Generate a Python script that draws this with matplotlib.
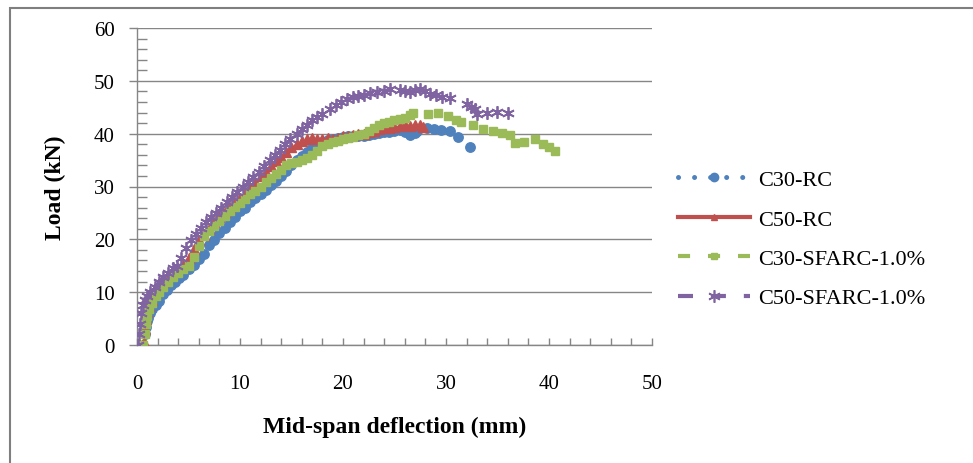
import numpy as np
import matplotlib
matplotlib.use('Agg')
import matplotlib.pyplot as plt
from matplotlib.lines import Line2D
from matplotlib.patches import Rectangle
from matplotlib.ticker import MultipleLocator

# series data
series_names = ['C30-RC', 'C50-RC', 'C30-SFARC-1.0%', 'C50-SFARC-1.0%']

c30_rc_x = [0.8, 0.9, 1.0, 1.1, 1.3, 1.5, 1.8, 2.1, 2.5, 2.9, 3.3, 3.7, 4.1, 4.5, 5.0,
            5.5, 6.0, 6.5, 7.0, 7.5, 8.0, 8.5, 9.0, 9.5, 10.0, 10.5, 11.0, 11.5, 12.0,
            12.5, 13.0, 13.5, 14.0, 14.5, 15.0, 15.5, 16.0, 16.5, 17.0, 17.5, 18.0,
            18.5, 19.0, 19.5, 20.0, 20.5, 21.0, 21.5, 22.0, 22.5, 23.0, 23.5, 24.0,
            24.5, 25.0, 25.5, 26.0, 26.5, 27.0, 27.2, 28.2, 28.8, 29.5, 30.4, 31.2, 32.3]
c30_rc_y = [2.0, 3.5, 4.5, 5.2, 6.0, 6.8, 7.6, 8.4, 9.6, 10.5, 11.3, 12.0, 12.6, 13.3, 14.3,
            15.1, 16.2, 17.2, 19.0, 19.9, 21.2, 22.1, 23.2, 24.3, 25.4, 26.0, 27.0, 27.8, 28.6,
            29.4, 30.2, 31.0, 31.9, 33.0, 34.0, 35.0, 35.8, 36.6, 37.3, 38.0, 38.5,
            38.8, 39.0, 39.2, 39.4, 39.5, 39.5, 39.6, 39.5, 39.7, 40.0, 40.2, 40.3,
            40.4, 40.5, 40.6, 40.3, 39.8, 40.2, 40.5, 41.0, 40.9, 40.7, 40.5, 39.4, 37.5]

c50_rc_x = [0.3, 0.5, 0.7, 0.8, 0.9, 1.0, 1.2, 1.5, 1.75, 2.0, 2.5, 3.0, 3.5, 4.0, 4.5,
            5.0, 5.5, 6.0, 6.5, 7.0, 7.5, 8.0, 8.5, 9.0, 9.5, 10.0, 10.5, 11.0, 11.5,
            12.0, 12.5, 13.0, 13.5, 14.0, 14.5, 15.0, 15.5, 16.0, 16.5, 17.0, 17.5,
            18.0, 18.5, 19.0, 19.5, 20.0, 20.5, 21.0, 21.5, 22.0, 22.5, 23.0, 23.5,
            24.0, 24.5, 25.0, 25.5, 26.0, 26.5, 27.0, 27.5, 27.8]
c50_rc_y = [0.0, 0.0, 0.5, 3.0, 5.0, 6.2, 7.3, 8.5, 10.0, 10.8, 12.0, 13.0, 13.8, 14.5, 15.2,
            16.5, 18.2, 19.8, 20.9, 22.0, 23.2, 24.3, 25.2, 26.2, 27.0, 27.8, 28.6, 29.8, 30.8,
            31.9, 32.8, 33.9, 34.8, 35.6, 36.5, 37.4, 38.0, 38.7, 39.0, 39.1, 39.0,
            39.0, 39.1, 39.0, 39.2, 39.5, 39.6, 39.8, 39.9, 40.0, 40.3, 40.5, 40.8,
            41.0, 41.1, 41.2, 41.4, 41.6, 41.5, 41.7, 41.6, 41.3]

c30_sf_x = [0.6, 0.8, 0.9, 1.0, 1.2, 1.5, 1.8, 2.1, 2.5, 3.0, 3.5, 4.0, 4.5, 5.0, 5.5,
            6.0, 6.5, 7.0, 7.5, 8.0, 8.5, 9.0, 9.5, 10.0, 10.5, 11.0, 11.5, 12.0, 12.5,
            13.0, 13.5, 14.0, 14.5, 15.0, 15.5, 16.0, 16.5, 17.0, 17.5, 18.0, 18.5,
            19.0, 19.5, 20.0, 20.5, 21.0, 21.5, 22.0, 22.5, 23.0, 23.5, 24.0, 24.5,
            25.0, 25.5, 26.0, 26.5, 26.8, 28.3, 29.2, 30.2, 31.0, 31.5, 32.6, 33.6,
            34.6, 35.4, 36.2, 36.7, 37.6, 38.6, 39.4, 40.0, 40.6]
c30_sf_y = [0.0, 2.0, 4.0, 5.5, 6.8, 8.0, 9.2, 10.0, 11.0, 12.0, 12.9, 13.7, 14.4, 15.0, 16.6,
            18.8, 20.6, 21.6, 22.5, 23.5, 24.5, 25.3, 26.1, 26.9, 27.7, 28.5, 29.2, 29.9, 30.8,
            31.6, 32.4, 33.2, 34.0, 34.4, 34.7, 35.0, 35.4, 36.0, 36.8, 37.6, 38.1,
            38.5, 38.7, 38.9, 39.1, 39.4, 39.7, 40.0, 40.5, 41.0, 41.6, 42.0, 42.3,
            42.5, 42.7, 43.0, 43.5, 44.0, 43.8, 44.0, 43.3, 42.6, 42.2, 41.6, 40.9,
            40.5, 40.2, 39.8, 38.3, 38.4, 38.9, 38.0, 37.4, 36.8]

c50_sf_x = [0.1, 0.2, 0.3, 0.4, 0.6, 0.8, 1.0, 1.3, 1.7, 2.1, 2.5, 3.0, 3.5, 3.9, 4.3,
            4.8, 5.2, 5.7, 6.2, 6.7, 7.2, 7.7, 8.2, 8.7, 9.2, 9.7, 10.3, 10.8, 11.3,
            11.8, 12.3, 12.9, 13.4, 13.9, 14.4, 14.9, 15.5, 16.0, 16.5, 17.0, 17.5,
            18.0, 18.7, 19.3, 19.8, 20.4, 21.0, 21.5, 22.0, 22.6, 23.3, 24.0, 24.6,
            25.5, 26.0, 26.5, 27.0, 27.5, 28.0, 28.4, 29.0, 29.6, 30.4, 32.0, 32.4,
            32.8, 33.0, 34.0, 35.0, 36.0]
c50_sf_y = [0.0, 2.0, 4.0, 6.0, 7.5, 8.5, 9.2, 10.0, 11.0, 12.0, 12.8, 13.7, 14.5, 15.0, 16.5,
            18.4, 19.8, 21.0, 22.2, 23.3, 24.2, 25.0, 26.0, 27.0, 28.0, 29.0, 30.0, 30.9, 31.8,
            32.7, 33.8, 35.0, 36.0, 37.0, 38.0, 39.0, 40.0, 40.9, 41.7, 42.5, 43.2,
            43.8, 44.7, 45.5, 46.0, 46.6, 47.0, 47.2, 47.4, 47.7, 47.9, 48.1, 48.4,
            48.3, 48.0, 47.8, 48.2, 48.4, 48.0, 47.5, 47.3, 47.0, 46.7, 45.6, 45.0,
            44.6, 43.8, 44.0, 44.1, 44.0]

x_ticks = [0, 10, 20, 30, 40, 50]
y_ticks = [0, 10, 20, 30, 40, 50, 60]


def main():
    plt.rcParams['font.family'] = ['Liberation Serif', 'DejaVu Serif']

    blue = '#4F81BD'
    red = '#C0504D'
    green = '#9BBB59'
    purple = '#8064A2'
    grey = '#868686'
    star = (6, 2, 0)

    fig = plt.figure(figsize=(9.73, 4.64), dpi=100)
    ax = fig.add_axes([137 / 973, 1 - 346 / 464, (652 - 137) / 973, (346 - 29) / 464])

    # grey frame around the chart (right and bottom run off the picture)
    fig.patches.append(Rectangle((10 / 973, -0.05), 1.2, 1 - 8.5 / 464 + 0.05,
                                 transform=fig.transFigure, fill=False,
                                 edgecolor='#7f7f7f', linewidth=1.5))

    # data points (markers only, like the Excel scatter)
    ax.plot(c30_rc_x, c30_rc_y, linestyle='none', marker='o', ms=6.8,
            color=blue, mec=blue, zorder=3)
    ax.plot(c50_rc_x, c50_rc_y, linestyle='none', marker='^', ms=7,
            color=red, mec=red, zorder=4)
    ax.plot(c30_sf_x, c30_sf_y, linestyle='none', marker='s', ms=5.5,
            color=green, mec=green, zorder=5)
    ax.plot(c50_sf_x, c50_sf_y, linestyle='none', marker=star, ms=9, mew=1.3,
            color=purple, mec=purple, zorder=6)

    # axes formatting
    ax.set_xlim(0, 50)
    ax.set_ylim(0, 60)
    ax.set_xticks(x_ticks)
    ax.set_yticks(y_ticks)
    ax.xaxis.set_minor_locator(MultipleLocator(2))
    ax.yaxis.set_minor_locator(MultipleLocator(2))
    ax.grid(axis='y', which='major', color=grey, linewidth=1)
    ax.set_axisbelow(True)
    for side in ['top', 'right']:
        ax.spines[side].set_visible(False)
    for side in ['left', 'bottom']:
        ax.spines[side].set_color(grey)
        ax.spines[side].set_linewidth(1)
    ax.tick_params(axis='x', which='both', direction='in', length=5, width=1,
                   color=grey, labelsize=15, pad=21)
    ax.tick_params(axis='y', which='major', direction='out', length=6, width=1,
                   color=grey, labelsize=15, pad=10)
    ax.tick_params(axis='y', which='minor', direction='in', length=7, width=1, color=grey)

    ax.set_xlabel('Mid-span deflection (mm)', fontsize=17, fontweight='bold', labelpad=16)
    ax.set_ylabel('Load (kN)', fontsize=17, fontweight='bold', labelpad=20)

    # legend with the Excel line styles
    handles = [
        Line2D([], [], color=blue, linestyle=(0, (0.01, 3.2)), linewidth=3.6,
               dash_capstyle='round', marker='o', ms=6),
        Line2D([], [], color=red, linestyle='-', linewidth=3, marker='^', ms=5),
        Line2D([], [], color=green, linestyle=(0, (2.9, 4.3)), linewidth=3,
               marker='s', ms=5),
        Line2D([], [], color=purple, linestyle=(0, (3.6, 4.3)), linewidth=3,
               marker=star, ms=9, mew=1.2),
    ]
    fig.legend(handles, series_names, loc='center left',
               bbox_to_anchor=(678 / 973, 1 - 240 / 464), frameon=False,
               fontsize=16, handlelength=3.25, handletextpad=0.36,
               labelspacing=0.85, borderpad=0, borderaxespad=0, numpoints=1)

    fig.savefig('out.png', dpi=100)


if __name__ == "__main__":
    main()
